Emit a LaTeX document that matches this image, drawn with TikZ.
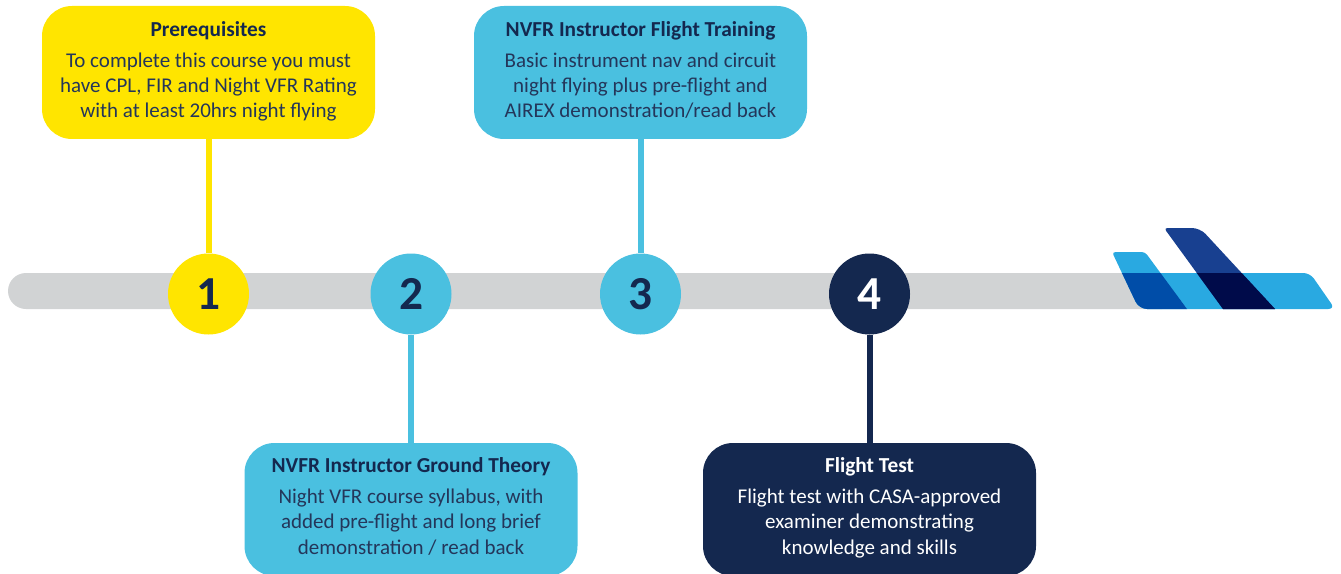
\documentclass[tikz,border=0pt]{standalone}
\usepackage{fontspec}
\setmainfont{Carlito}
\definecolor{navy}{HTML}{14284F}
\definecolor{bodyt}{HTML}{24365A}
\definecolor{yel}{HTML}{FFE500}
\definecolor{sky}{HTML}{4AC0E0}
\definecolor{barg}{HTML}{D1D3D4}
\definecolor{pl}{HTML}{29A9E1}
\definecolor{pd}{HTML}{004DA8}
\definecolor{pm}{HTML}{184090}
\definecolor{pk}{HTML}{000B4A}
\tikzset{
  card/.style={rounded corners=22.5pt,minimum width=249.75pt,minimum height=99.75pt,
    inner sep=0pt,align=center,text=bodyt,font=\fontsize{15.75pt}{19pt}\selectfont},
  dot/.style={circle,minimum size=60.75pt,inner sep=0pt,text=navy,font=\fontsize{35.5pt}{35.5pt}\selectfont\bfseries},
  link/.style={line width=4.5pt},
}
\newcommand{\cardhead}[1]{{\fontsize{16pt}{19pt}\selectfont\bfseries #1}}
\newcommand{\cardtitle}[1]{{\color{navy}\cardhead{#1}}\\[4.3pt]}
\newcommand{\uplift}[1]{\rule[-#1]{0pt}{0pt}}
\newcommand{\finsmall}[1]{\fill[#1,rounded corners=2.5pt] (1112,252) -- (1145,252) [sharp corners] -- (1187,309) -- (1148,309) [rounded corners=6pt] -- (1139,309) [rounded corners=2.5pt] -- cycle;}
\newcommand{\finbig}[1]{\fill[#1,rounded corners=2.5pt] (1164,228) [rounded corners=6pt] -- (1200,228) [sharp corners] -- (1275,309) -- (1223,309) [rounded corners=2.5pt] -- cycle;}
\begin{document}
\begin{tikzpicture}[x=0.75pt,y=-0.75pt]
\useasboundingbox (0,0) rectangle (1341,574);
% bar
\fill[barg,rounded corners=13.5pt] (8,273) rectangle (1180,309);
% tail of the aircraft
\fill[pl,rounded corners=5pt] (1160,273) -- (1310,273) -- (1335,309) [sharp corners] -- (1187,309) -- cycle;
\finsmall{pl}
\begin{scope}
  \clip (1100,273) rectangle (1341,320);
  \finsmall{pd}
\end{scope}
\finbig{pm}
\begin{scope}
  \clip (1150,273) rectangle (1341,320);
  \finbig{pk}
\end{scope}
% cards
\node[card,fill=yel] (c1) at (208.5,72.5) {\cardtitle{Prerequisites}To complete this course you must\\have CPL, FIR and Night VFR Rating\\with at least 20hrs night flying\uplift{4.5pt}};
\node[card,fill=sky] (c2) at (411,509.5) {\cardtitle{NVFR Instructor Ground Theory}Night VFR course syllabus, with\\added pre-flight and long brief\\demonstration / read back\uplift{5.5pt}};
\node[card,fill=sky] (c3) at (640.5,72.5) {\cardtitle{NVFR Instructor Flight Training}Basic instrument nav and circuit\\night flying plus pre-flight and\\AIREX demonstration/read back\uplift{4.5pt}};
\node[card,fill=navy,text=white] (c4) at (869.5,509.5) {\cardhead{Flight Test}\\[4.3pt]Flight test with CASA-approved\\examiner demonstrating\\knowledge and skills\uplift{5.5pt}};
% dots
\node[dot,fill=yel] (d1) at (208.5,294) {1};
\node[dot,fill=sky] (d2) at (411,294) {2};
\node[dot,fill=sky] (d3) at (640.5,294) {3};
\node[dot,fill=navy,text=white] (d4) at (869.5,294) {4};
% connectors
\draw[link,yel] (c1.south) -- (d1.north);
\draw[link,sky] (d2.south) -- (c2.north);
\draw[link,sky] (c3.south) -- (d3.north);
\draw[link,navy] (d4.south) -- (c4.north);
\end{tikzpicture}
\end{document}
